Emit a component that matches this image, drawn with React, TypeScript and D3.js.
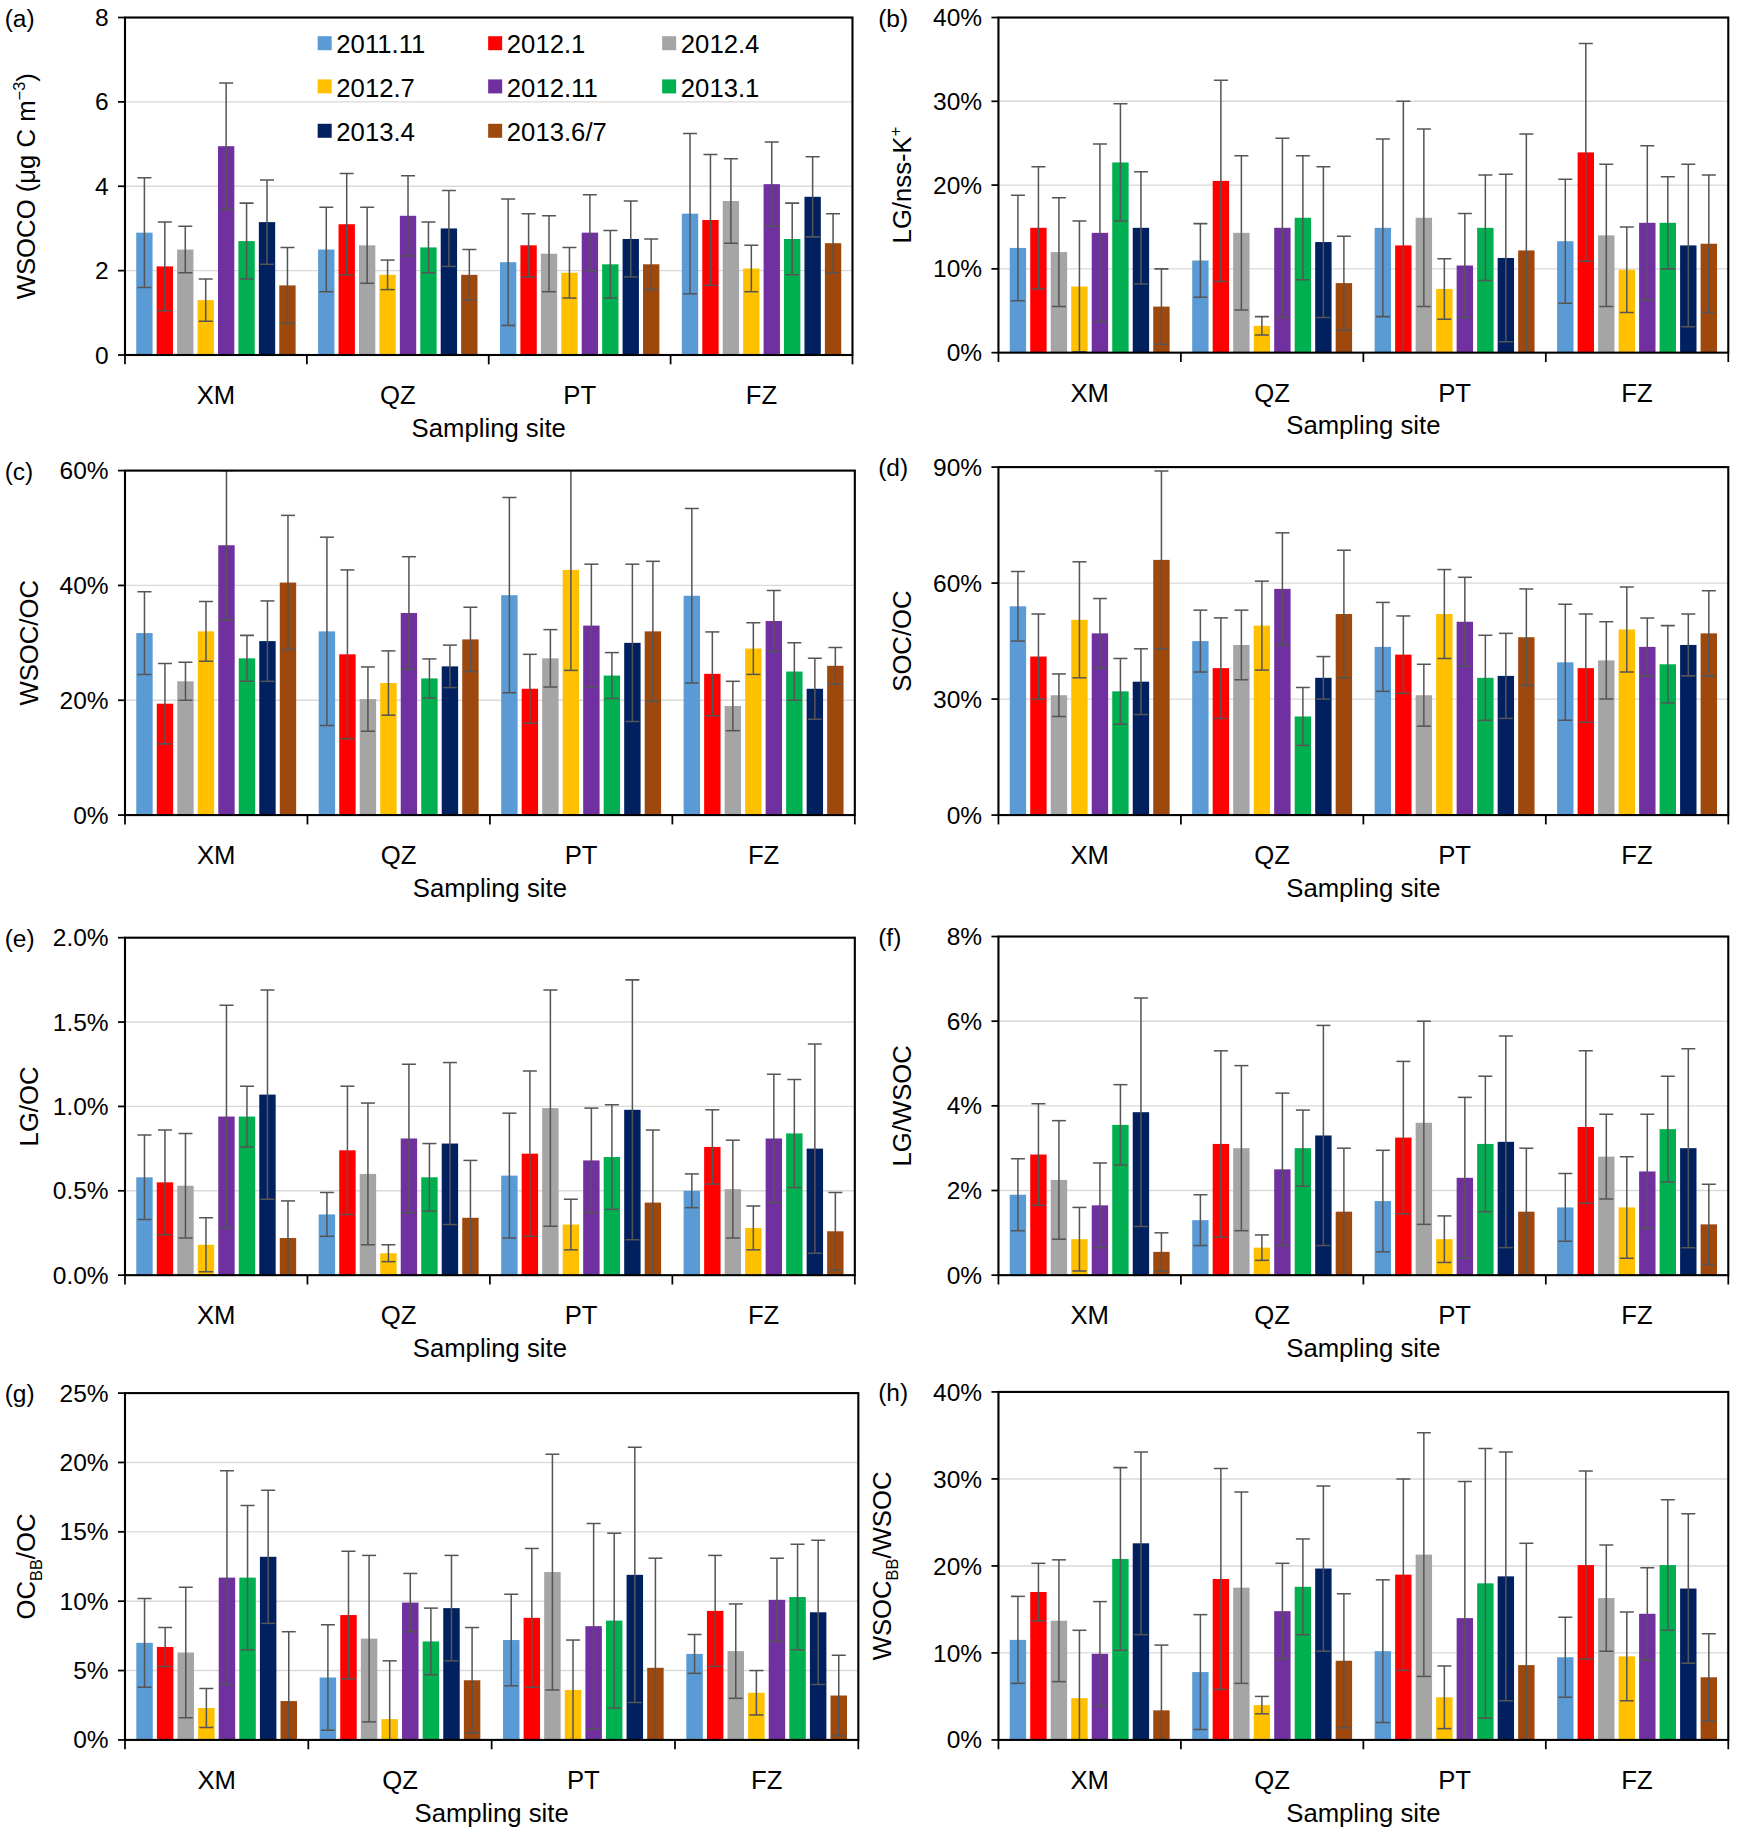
import React from "react";
import * as d3 from "d3";

const sites = ["XM", "QZ", "PT", "FZ"];
const seriesNames = ["2011.11", "2012.1", "2012.4", "2012.7", "2012.11", "2013.1", "2013.4", "2013.6/7"];
const colors = ["#5B9BD5", "#FF0000", "#A5A5A5", "#FFC000", "#7030A0", "#00B050", "#002060", "#9E480E"];

// [mean, sd] per site, per series
const wsocA = [
  [[2.9,1.3],[2.1,1.05],[2.5,0.55],[1.3,0.5],[4.95,1.5],[2.7,0.9],[3.15,1.0],[1.65,0.9]],
  [[2.5,1.0],[3.1,1.2],[2.6,0.9],[1.9,0.35],[3.3,0.95],[2.55,0.6],[3.0,0.9],[1.9,0.6]],
  [[2.2,1.5],[2.6,0.75],[2.4,0.9],[1.95,0.6],[2.9,0.9],[2.15,0.8],[2.75,0.9],[2.15,0.6]],
  [[3.35,1.9],[3.2,1.55],[3.65,1.0],[2.05,0.55],[4.05,1.0],[2.75,0.85],[3.75,0.95],[2.65,0.7]],
];
const lgKB = [
  [[12.5,6.3],[14.9,7.3],[12,6.5],[7.9,7.8],[14.3,10.6],[22.7,7],[14.9,6.7],[5.5,4.5]],
  [[11,4.4],[20.5,12],[14.3,9.2],[3.2,1.1],[14.9,10.7],[16.1,7.4],[13.2,9],[8.3,5.6]],
  [[14.9,10.6],[12.8,17.2],[16.1,10.6],[7.6,3.6],[10.4,6.2],[14.9,6.3],[11.3,10],[12.2,13.9]],
  [[13.3,7.4],[23.9,13],[14,8.5],[9.9,5.1],[15.5,9.2],[15.5,5.5],[12.8,9.7],[13,8.2]],
];
const wsocOcC = [
  [[31.7,7.2],[19.4,7],[23.3,3.3],[32,5.2],[47,13],[27.3,4],[30.3,7],[40.5,11.7]],
  [[32,16.4],[28,14.7],[20.2,5.6],[23,5.6],[35.2,9.8],[23.8,3.4],[25.9,3.7],[30.6,5.6]],
  [[38.3,17],[22,6],[27.3,5],[42.7,17.5],[33,10.7],[24.3,4],[30,13.7],[32,12.2]],
  [[38.2,15.2],[24.6,7.3],[19,4.3],[29,4.5],[33.8,5.3],[25,5],[22,5.3],[26,3.2]],
];
const socOcD = [
  [[54,9],[41,11],[31,5.5],[50.5,15],[47,9],[32,8.5],[34.5,8.5],[66,23]],
  [[45,8],[38,13],[44,9],[49,11.5],[58.5,14.5],[25.5,7.5],[35.5,5.5],[52,16.5]],
  [[43.5,11.5],[41.5,10],[31,8],[52,11.5],[50,11.5],[35.5,11],[36,11],[46,12.5]],
  [[39.5,15],[38,14],[40,10],[48,11],[43.5,7.5],[39,10],[44,8],[47,11]],
];
const lgOcE = [
  [[0.58,0.25],[0.55,0.31],[0.53,0.31],[0.18,0.16],[0.94,0.66],[0.94,0.18],[1.07,0.62],[0.22,0.22]],
  [[0.36,0.13],[0.74,0.38],[0.6,0.42],[0.13,0.05],[0.81,0.44],[0.58,0.2],[0.78,0.48],[0.34,0.34]],
  [[0.59,0.37],[0.72,0.49],[0.99,0.7],[0.3,0.15],[0.68,0.31],[0.7,0.31],[0.98,0.77],[0.43,0.43]],
  [[0.5,0.1],[0.76,0.22],[0.51,0.29],[0.28,0.13],[0.81,0.38],[0.84,0.32],[0.75,0.62],[0.26,0.23]],
];
const lgWsocF = [
  [[1.9,0.85],[2.85,1.2],[2.25,1.4],[0.85,0.75],[1.65,1.0],[3.55,0.95],[3.85,2.7],[0.55,0.45]],
  [[1.3,0.6],[3.1,2.2],[3.0,1.95],[0.65,0.3],[2.5,1.8],[3.0,0.9],[3.3,2.6],[1.5,1.5]],
  [[1.75,1.2],[3.25,1.8],[3.6,2.4],[0.85,0.55],[2.3,1.9],[3.1,1.6],[3.15,2.5],[1.5,1.5]],
  [[1.6,0.8],[3.5,1.8],[2.8,1.0],[1.6,1.2],[2.45,1.35],[3.45,1.25],[3.0,2.35],[1.2,0.95]],
];
const ocbbG = [
  [[7,3.2],[6.7,1.4],[6.3,4.7],[2.3,1.4],[11.7,7.7],[11.7,5.2],[13.2,4.8],[2.8,5]],
  [[4.5,3.8],[9,4.6],[7.3,6],[1.5,4.2],[9.9,2.1],[7.1,2.4],[9.5,3.8],[4.3,3.8]],
  [[7.2,3.3],[8.8,5],[12.1,8.5],[3.6,3.6],[8.2,7.4],[8.6,6.3],[11.9,9.2],[5.2,7.9]],
  [[6.2,1.4],[9.3,4],[6.4,3.4],[3.4,1.6],[10.1,3],[10.3,3.8],[9.2,5.2],[3.2,2.9]],
];
const wsocbbH = [
  [[11.5,5],[17,3.3],[13.7,7],[4.8,7.8],[9.9,6],[20.8,10.5],[22.6,10.5],[3.4,7.5]],
  [[7.8,6.6],[18.5,12.7],[17.5,11],[4,1],[14.8,5.5],[17.6,5.5],[19.7,9.5],[9.1,7.7]],
  [[10.2,8.2],[19,11],[21.3,14],[4.9,3.6],[14,15.7],[18,15.5],[18.8,14.3],[8.6,14]],
  [[9.5,4.6],[20.1,10.8],[16.3,6.1],[9.6,5.1],[14.5,5.3],[20.1,7.5],[17.4,8.6],[7.2,5]],
];

type P = { id: string; data: number[][][]; max: number; step: number; fmt: (v: number) => string;
  x0: number; x1: number; y0: number; y1: number; title: React.ReactNode; tx: number; legend?: boolean };

const pct0 = (v: number) => `${v}%`;
const pct1 = (v: number) => `${v.toFixed(1)}%`;
const FONT = "'Liberation Sans', Arial, sans-serif";

const panels: P[] = [
  { id: "(a)", data: wsocA, max: 8, step: 2, fmt: (v) => `${v}`, x0: 107, x1: 730, y0: 15, y1: 304, tx: 22, legend: true,
    title: <>WSOCO (μg C m<tspan dy={-8} fontSize={14}>−3</tspan><tspan dy={8}>)</tspan></> },
  { id: "(b)", data: lgKB, max: 40, step: 10, fmt: pct0, x0: 855, x1: 1480, y0: 15, y1: 302, tx: 772,
    title: <>LG/nss-K<tspan dy={-8} fontSize={14}>+</tspan></> },
  { id: "(c)", data: wsocOcC, max: 60, step: 20, fmt: pct0, x0: 107, x1: 732, y0: 403, y1: 698, tx: 25, title: <>WSOC/OC</> },
  { id: "(d)", data: socOcD, max: 90, step: 30, fmt: pct0, x0: 855, x1: 1480, y0: 400, y1: 698, tx: 772, title: <>SOC/OC</> },
  { id: "(e)", data: lgOcE, max: 2, step: 0.5, fmt: pct1, x0: 107, x1: 732, y0: 803, y1: 1092, tx: 25, title: <>LG/OC</> },
  { id: "(f)", data: lgWsocF, max: 8, step: 2, fmt: pct0, x0: 855, x1: 1480, y0: 802, y1: 1092, tx: 772, title: <>LG/WSOC</> },
  { id: "(g)", data: ocbbG, max: 25, step: 5, fmt: pct0, x0: 107, x1: 735, y0: 1193, y1: 1490, tx: 22,
    title: <>OC<tspan dy={6} fontSize={14}>BB</tspan><tspan dy={-6}>/OC</tspan></> },
  { id: "(h)", data: wsocbbH, max: 40, step: 10, fmt: pct0, x0: 855, x1: 1480, y0: 1192, y1: 1490, tx: 755,
    title: <>WSOC<tspan dy={6} fontSize={14}>BB</tspan><tspan dy={-6}>/WSOC</tspan></> },
];

function Panel({ p }: { p: P }) {
  const y = d3.scaleLinear().domain([0, p.max]).range([p.y1, p.y0]);
  const xg = d3.scaleBand().domain(sites).range([p.x0, p.x1]);
  const xb = d3.scaleBand().domain(seriesNames).range([0, xg.bandwidth()]).paddingInner(0.2).paddingOuter(0.55);
  const ticks = d3.range(0, p.max + 1e-9, p.step);
  const clipId = "clip" + p.id.replace(/\W/g, "");
  const ym = (p.y0 + p.y1) / 2;
  return (
    <g>
      <defs><clipPath id={clipId}><rect x={p.x0} y={p.y0} width={p.x1 - p.x0} height={p.y1 - p.y0} /></clipPath></defs>
      {ticks.slice(1).map((t) => <line key={t} x1={p.x0} x2={p.x1} y1={y(t)} y2={y(t)} stroke="#d9d9d9" strokeWidth={1.2} />)}
      <g clipPath={`url(#${clipId})`}>
        {p.data.map((grp, gi) => grp.map(([m, s], si) => {
          const bx = xg(sites[gi])! + xb(seriesNames[si])!;
          const cx = bx + xb.bandwidth() / 2;
          return (
            <g key={`${gi}-${si}`}>
              <rect x={bx} y={y(m)} width={xb.bandwidth()} height={p.y1 - y(m)} fill={colors[si]} />
              <line x1={cx} x2={cx} y1={y(m + s)} y2={y(Math.max(0, m - s))} stroke="#555" strokeWidth={1.3} />
              <line x1={cx - 6} x2={cx + 6} y1={y(m + s)} y2={y(m + s)} stroke="#555" strokeWidth={1.3} />
              <line x1={cx - 6} x2={cx + 6} y1={y(Math.max(0, m - s))} y2={y(Math.max(0, m - s))} stroke="#555" strokeWidth={1.3} />
            </g>
          );
        }))}
      </g>
      <rect x={p.x0} y={p.y0} width={p.x1 - p.x0} height={p.y1 - p.y0} fill="none" stroke="#000" strokeWidth={1.8} />
      {ticks.map((t) => (
        <g key={t}>
          <line x1={p.x0 - 6} x2={p.x0} y1={y(t)} y2={y(t)} stroke="#000" strokeWidth={1.5} />
          <text x={p.x0 - 14} y={y(t)} dy="0.35em" textAnchor="end" fontSize={21}>{p.fmt(t)}</text>
        </g>
      ))}
      {[...sites.map((s) => xg(s)!), p.x1].map((v, i) => <line key={i} x1={v} x2={v} y1={p.y1} y2={p.y1 + 8} stroke="#000" strokeWidth={1.5} />)}
      {sites.map((s) => <text key={s} x={xg(s)! + xg.bandwidth() / 2} y={p.y1 + 42} textAnchor="middle" fontSize={22}>{s}</text>)}
      <text x={(p.x0 + p.x1) / 2} y={p.y1 + 70} textAnchor="middle" fontSize={22}>Sampling site</text>
      <text x={p.x0 < 500 ? 4 : 752} y={p.y0 + 8} fontSize={21}>{p.id}</text>
      <text transform={`translate(${p.tx},${ym}) rotate(-90)`} textAnchor="middle" dy="0.35em" fontSize={22}>{p.title}</text>
      {p.legend && seriesNames.map((n, i) => {
        const lx = [272, 418, 567][i % 3];
        const ly = [38, 75, 113][Math.floor(i / 3)];
        return (
          <g key={n}>
            <rect x={lx} y={ly - 7} width={12} height={12} fill={colors[i]} />
            <text x={lx + 16} y={ly} dy="0.35em" fontSize={22}>{n}</text>
          </g>
        );
      })}
    </g>
  );
}

export default function App() {
  return (
    <svg width={1740} height={1831} viewBox="0 0 1490 1568" style={{ position: "absolute", left: 0, top: 0, background: "#fff" }} fontFamily={FONT}>
      <rect width={1490} height={1568} fill="#fff" />
      {panels.map((p) => <Panel key={p.id} p={p} />)}
    </svg>
  );
}
